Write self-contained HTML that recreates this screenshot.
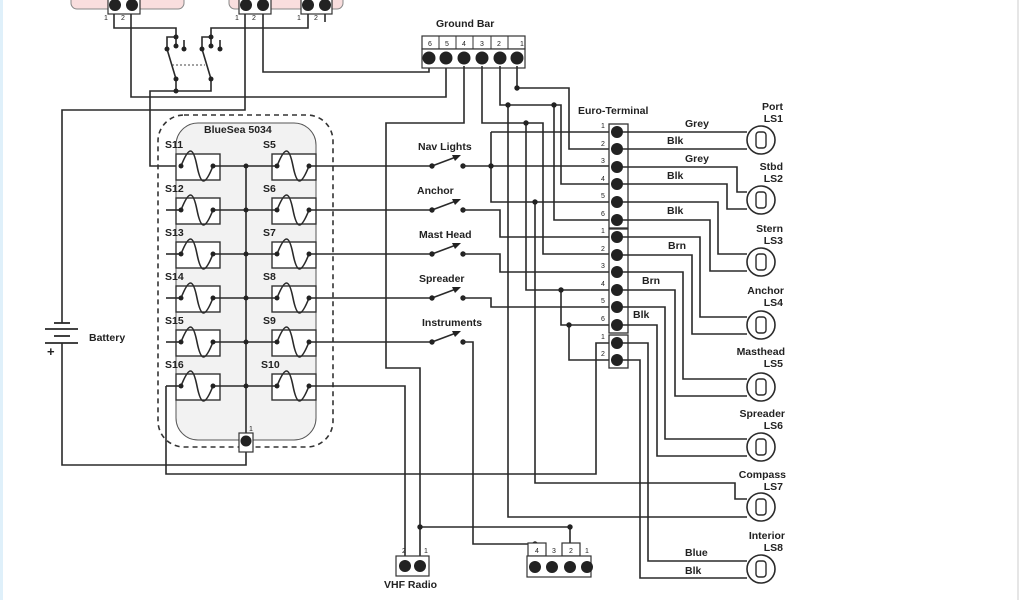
<!DOCTYPE html>
<html><head><meta charset="utf-8"><style>
html,body{margin:0;padding:0;background:#fff;}
svg{display:block;}
text{font-family:"Liberation Sans",sans-serif;font-weight:bold;font-size:10.5px;fill:#222;}
.w{fill:none;stroke:#2a2a2a;stroke-width:1.6;}
.n{font-size:7px;font-weight:normal;}
</style></head><body>
<svg width="1024" height="600" viewBox="0 0 1024 600" xmlns="http://www.w3.org/2000/svg">
<rect x="0" y="0" width="3" height="600" fill="#dff0fa"/>
<line x1="1018" y1="0" x2="1018" y2="600" stroke="#ccc" stroke-width="1"/>

<rect x="71" y="-12" width="113" height="21" rx="6" fill="#f9dede" stroke="#888"/>
<rect x="229" y="-12" width="114" height="21" rx="6" fill="#f9dede" stroke="#888"/>
<g fill="#fff" stroke="#333" stroke-width="1.2">
<rect x="108" y="-2" width="32" height="16"/><rect x="239" y="-2" width="32" height="16"/><rect x="301" y="-2" width="31" height="16"/>
</g>
<g fill="#222">
<circle cx="115" cy="5" r="6"/><circle cx="132" cy="5" r="6"/><circle cx="246" cy="5" r="6"/><circle cx="263" cy="5" r="6"/><circle cx="308" cy="5" r="6"/><circle cx="325" cy="5" r="6"/>
</g>
<text class="n" x="104" y="20">1</text><text class="n" x="121" y="20">2</text><text class="n" x="235" y="20">1</text><text class="n" x="252" y="20">2</text><text class="n" x="297" y="20">1</text><text class="n" x="314" y="20">2</text>

<polyline class="w" points="114,14 114,28 176,28 176,37"/>
<polyline class="w" points="131,14 131,97 446,97 446,66"/>
<polyline class="w" points="245,14 245,110 62,110 62,323"/>
<polyline class="w" points="211,37 211,28 308,28 308,14"/>
<polyline class="w" points="263,14 263,72 429,72 429,66"/>
<polyline class="w" points="325,14 325,22"/>
<polyline class="w" points="167,49 167,37 176,37 176,46"/>
<polyline class="w" points="184,49 184,40"/>
<polyline class="w" points="202,49 202,37 211,37 211,46"/>
<polyline class="w" points="220,49 220,40"/>
<line class="w" x1="167" y1="49" x2="176" y2="79"/>
<line class="w" x1="202" y1="49" x2="211" y2="79"/>
<line x1="172" y1="65" x2="205" y2="65" stroke="#444" stroke-dasharray="2,2"/>
<polyline class="w" points="176,79 176,91"/>
<polyline class="w" points="211,79 211,91 150,91 150,166 176,166"/>
<g fill="#222"><circle cx="167" cy="49" r="2.5"/><circle cx="176" cy="46" r="2.5"/><circle cx="184" cy="49" r="2.5"/><circle cx="202" cy="49" r="2.5"/><circle cx="211" cy="46" r="2.5"/><circle cx="220" cy="49" r="2.5"/><circle cx="176" cy="79" r="2.5"/><circle cx="211" cy="79" r="2.5"/><circle cx="176" cy="91" r="2.5"/><circle cx="211" cy="37" r="2.5"/><circle cx="176" cy="37" r="2.5"/></g>

<text x="436" y="27">Ground Bar</text>
<g fill="#fff" stroke="#333" stroke-width="1.2">
<rect x="422" y="36" width="103" height="13"/>
<rect x="422" y="49" width="103" height="19"/>
</g>
<g stroke="#333" stroke-width="1"><line x1="439" y1="36" x2="439" y2="49"/><line x1="456" y1="36" x2="456" y2="49"/><line x1="473" y1="36" x2="473" y2="49"/><line x1="491" y1="36" x2="491" y2="49"/><line x1="508" y1="36" x2="508" y2="49"/></g>
<text class="n" x="428" y="46">6</text><text class="n" x="445" y="46">5</text><text class="n" x="462" y="46">4</text><text class="n" x="480" y="46">3</text><text class="n" x="497" y="46">2</text><text class="n" x="520" y="46">1</text>
<g fill="#222"><circle cx="429" cy="58" r="6.5"/><circle cx="446" cy="58" r="6.5"/><circle cx="464" cy="58" r="6.5"/><circle cx="482" cy="58" r="6.5"/><circle cx="500" cy="58" r="6.5"/><circle cx="517" cy="58" r="6.5"/></g>

<g stroke="#2a2a2a" stroke-width="1.8">
<line x1="54" y1="323" x2="70" y2="323"/><line x1="45" y1="329" x2="78" y2="329"/>
<line x1="54" y1="336" x2="70" y2="336"/><line x1="45" y1="343" x2="78" y2="343"/>
</g>
<text x="47" y="356" style="font-size:13px">+</text>
<text x="89" y="341">Battery</text>
<polyline class="w" points="62,343 62,465 246,465 246,452"/>

<rect x="158" y="115" width="175" height="332" rx="26" fill="none" stroke="#333" stroke-width="1.6" stroke-dasharray="5,4"/>
<rect x="176" y="123" width="140" height="317" rx="22" fill="#f2f2f2" stroke="#555" stroke-width="1"/>
<text x="204" y="133">BlueSea 5034</text>
<line class="w" x1="246" y1="166" x2="246" y2="434"/>
<g fill="#fff" stroke="#333" stroke-width="1.4">
<rect x="176" y="154" width="44" height="26"/><rect x="272" y="154" width="44" height="26"/>
<rect x="176" y="198" width="44" height="26"/><rect x="272" y="198" width="44" height="26"/>
<rect x="176" y="242" width="44" height="26"/><rect x="272" y="242" width="44" height="26"/>
<rect x="176" y="286" width="44" height="26"/><rect x="272" y="286" width="44" height="26"/>
<rect x="176" y="330" width="44" height="26"/><rect x="272" y="330" width="44" height="26"/>
<rect x="176" y="374" width="44" height="26"/><rect x="272" y="374" width="44" height="26"/>
</g>
<g class="w">
<path d="M181,166 c8,-20 12,-20 16,0 s8,20 16,0"/><path d="M277,166 c8,-20 12,-20 16,0 s8,20 16,0"/>
<path d="M181,210 c8,-20 12,-20 16,0 s8,20 16,0"/><path d="M277,210 c8,-20 12,-20 16,0 s8,20 16,0"/>
<path d="M181,254 c8,-20 12,-20 16,0 s8,20 16,0"/><path d="M277,254 c8,-20 12,-20 16,0 s8,20 16,0"/>
<path d="M181,298 c8,-20 12,-20 16,0 s8,20 16,0"/><path d="M277,298 c8,-20 12,-20 16,0 s8,20 16,0"/>
<path d="M181,342 c8,-20 12,-20 16,0 s8,20 16,0"/><path d="M277,342 c8,-20 12,-20 16,0 s8,20 16,0"/>
<path d="M181,386 c8,-20 12,-20 16,0 s8,20 16,0"/><path d="M277,386 c8,-20 12,-20 16,0 s8,20 16,0"/>
</g>
<g class="w">
<line x1="213" y1="166" x2="277" y2="166"/><line x1="166" y1="210" x2="181" y2="210"/><line x1="213" y1="210" x2="277" y2="210"/>
<line x1="166" y1="254" x2="181" y2="254"/><line x1="213" y1="254" x2="277" y2="254"/>
<line x1="166" y1="298" x2="181" y2="298"/><line x1="213" y1="298" x2="277" y2="298"/>
<line x1="166" y1="342" x2="181" y2="342"/><line x1="213" y1="342" x2="277" y2="342"/>
<line x1="213" y1="386" x2="277" y2="386"/>
</g>
<g fill="#222">
<circle cx="181" cy="166" r="2.5"/><circle cx="213" cy="166" r="2.5"/><circle cx="277" cy="166" r="2.5"/><circle cx="309" cy="166" r="2.5"/><circle cx="246" cy="166" r="2.5"/>
<circle cx="181" cy="210" r="2.5"/><circle cx="213" cy="210" r="2.5"/><circle cx="277" cy="210" r="2.5"/><circle cx="309" cy="210" r="2.5"/><circle cx="246" cy="210" r="2.5"/>
<circle cx="181" cy="254" r="2.5"/><circle cx="213" cy="254" r="2.5"/><circle cx="277" cy="254" r="2.5"/><circle cx="309" cy="254" r="2.5"/><circle cx="246" cy="254" r="2.5"/>
<circle cx="181" cy="298" r="2.5"/><circle cx="213" cy="298" r="2.5"/><circle cx="277" cy="298" r="2.5"/><circle cx="309" cy="298" r="2.5"/><circle cx="246" cy="298" r="2.5"/>
<circle cx="181" cy="342" r="2.5"/><circle cx="213" cy="342" r="2.5"/><circle cx="277" cy="342" r="2.5"/><circle cx="309" cy="342" r="2.5"/><circle cx="246" cy="342" r="2.5"/>
<circle cx="181" cy="386" r="2.5"/><circle cx="213" cy="386" r="2.5"/><circle cx="277" cy="386" r="2.5"/><circle cx="309" cy="386" r="2.5"/><circle cx="246" cy="386" r="2.5"/>
</g>
<text x="165" y="148">S11</text><text x="263" y="148">S5</text>
<text x="165" y="192">S12</text><text x="263" y="192">S6</text>
<text x="165" y="236">S13</text><text x="263" y="236">S7</text>
<text x="165" y="280">S14</text><text x="263" y="280">S8</text>
<text x="165" y="324">S15</text><text x="263" y="324">S9</text>
<text x="165" y="368">S16</text><text x="261" y="368">S10</text>
<rect x="239" y="433" width="14" height="19" fill="#fff" stroke="#333" stroke-width="1.2"/>
<circle cx="246" cy="441" r="5.5" fill="#222"/>
<text class="n" x="249" y="431">1</text>

<g class="w">
<line x1="309" y1="166" x2="432" y2="166"/><line x1="309" y1="210" x2="432" y2="210"/>
<line x1="309" y1="254" x2="432" y2="254"/><line x1="309" y1="298" x2="432" y2="298"/>
<line x1="309" y1="342" x2="432" y2="342"/>
<polyline points="309,386 405,386 405,556"/>
<polyline points="166,386 181,386"/>
<polyline points="166,386 166,474 596,474 596,343 609,343"/>
</g>
<g class="w">
<line x1="432" y1="166" x2="456" y2="157"/><line x1="432" y1="210" x2="456" y2="201"/>
<line x1="432" y1="254" x2="456" y2="245"/><line x1="432" y1="298" x2="456" y2="289"/>
<line x1="432" y1="342" x2="456" y2="333"/>
</g>
<g fill="#222">
<polygon points="461,155 452,155 455,161"/><polygon points="461,199 452,199 455,205"/><polygon points="461,243 452,243 455,249"/><polygon points="461,287 452,287 455,293"/><polygon points="461,331 452,331 455,337"/>
<circle cx="432" cy="166" r="2.7"/><circle cx="463" cy="166" r="2.7"/>
<circle cx="432" cy="210" r="2.7"/><circle cx="463" cy="210" r="2.7"/>
<circle cx="432" cy="254" r="2.7"/><circle cx="463" cy="254" r="2.7"/>
<circle cx="432" cy="298" r="2.7"/><circle cx="463" cy="298" r="2.7"/>
<circle cx="432" cy="342" r="2.7"/><circle cx="463" cy="342" r="2.7"/>
</g>
<text x="418" y="150">Nav Lights</text>
<text x="417" y="194">Anchor</text>
<text x="419" y="238">Mast Head</text>
<text x="419" y="282">Spreader</text>
<text x="422" y="326">Instruments</text>

<g class="w">
<polyline points="464,66 464,123 386,123 386,368 420,368 420,556"/>
<polyline points="420,527 570,527 570,543"/>
<polyline points="517,66 517,88 569,88 569,149 609,149"/>
<polyline points="500,66 500,105 561,105 561,184 609,184"/>
<polyline points="482,66 482,123 543,123 543,254 609,254"/>
<polyline points="526,123 526,290 609,290"/>
<polyline points="561,290 561,325 609,325"/>
<polyline points="569,325 569,360 609,360"/>
<polyline points="554,105 554,220 609,220"/>
<polyline points="508,105 508,517 747,517"/>
<polyline points="535,202 535,483 735,483 735,499 747,499"/>
<polyline points="463,166 609,166"/>
<polyline points="491,132 609,132"/><polyline points="491,132 491,202 609,202"/>
<polyline points="463,210 500,210 500,237 609,237"/>
<polyline points="463,254 500,254 500,272 609,272"/>
<polyline points="463,298 491,298 491,307 609,307"/>
<polyline points="463,342 473,342 473,544 535,544"/>
</g>
<g fill="#222">
<circle cx="517" cy="88" r="2.7"/><circle cx="508" cy="105" r="2.7"/><circle cx="526" cy="123" r="2.7"/><circle cx="491" cy="166" r="2.7"/><circle cx="535" cy="202" r="2.7"/><circle cx="561" cy="290" r="2.7"/><circle cx="569" cy="325" r="2.7"/><circle cx="420" cy="527" r="2.7"/><circle cx="570" cy="527" r="2.7"/><circle cx="535" cy="544" r="2.7"/><circle cx="554" cy="105" r="2.7"/>
</g>

<text x="578" y="114">Euro-Terminal</text>
<g fill="#fff" stroke="#333" stroke-width="1.3">
<rect x="609" y="124" width="19" height="104"/><rect x="609" y="229" width="19" height="104"/><rect x="609" y="335" width="19" height="33"/>
</g>
<g fill="#222">
<circle cx="617" cy="132" r="6"/><circle cx="617" cy="149" r="6"/><circle cx="617" cy="167" r="6"/><circle cx="617" cy="184" r="6"/><circle cx="617" cy="202" r="6"/><circle cx="617" cy="220" r="6"/>
<circle cx="617" cy="237" r="6"/><circle cx="617" cy="255" r="6"/><circle cx="617" cy="272" r="6"/><circle cx="617" cy="290" r="6"/><circle cx="617" cy="307" r="6"/><circle cx="617" cy="325" r="6"/>
<circle cx="617" cy="343" r="6"/><circle cx="617" cy="360" r="6"/>
</g>
<g>
<text class="n" x="601" y="128">1</text><text class="n" x="601" y="146">2</text><text class="n" x="601" y="163">3</text><text class="n" x="601" y="181">4</text><text class="n" x="601" y="198">5</text><text class="n" x="601" y="216">6</text>
<text class="n" x="601" y="233">1</text><text class="n" x="601" y="251">2</text><text class="n" x="601" y="268">3</text><text class="n" x="601" y="286">4</text><text class="n" x="601" y="303">5</text><text class="n" x="601" y="321">6</text>
<text class="n" x="601" y="339">1</text><text class="n" x="601" y="356">2</text>
</g>

<g class="w">
<polyline points="623,132 747,132"/>
<polyline points="623,149 747,149"/>
<polyline points="623,167 737,167 737,192 747,192"/>
<polyline points="623,184 727,184 727,209 747,209"/>
<polyline points="623,202 718,202 718,254 747,254"/>
<polyline points="623,220 710,220 710,271 747,271"/>
<polyline points="623,237 700,237 700,317 747,317"/>
<polyline points="623,255 692,255 692,334 747,334"/>
<polyline points="623,272 683,272 683,379 747,379"/>
<polyline points="623,290 675,290 675,396 747,396"/>
<polyline points="623,307 665,307 665,439 747,439"/>
<polyline points="623,325 657,325 657,456 747,456"/>
<polyline points="623,343 648,343 648,561 747,561"/>
<polyline points="623,360 640,360 640,578 747,578"/>
</g>
<text x="685" y="127">Grey</text><text x="667" y="144">Blk</text>
<text x="685" y="162">Grey</text><text x="667" y="179">Blk</text>
<text x="667" y="214">Blk</text><text x="668" y="249">Brn</text>
<text x="642" y="284">Brn</text><text x="633" y="318">Blk</text>
<text x="685" y="556">Blue</text><text x="685" y="574">Blk</text>

<g fill="#fff" stroke="#2a2a2a" stroke-width="1.6">
<circle cx="761" cy="140" r="14"/><circle cx="761" cy="200" r="14"/><circle cx="761" cy="262" r="14"/><circle cx="761" cy="325" r="14"/>
<circle cx="761" cy="387" r="14"/><circle cx="761" cy="447" r="14"/><circle cx="761" cy="507" r="14"/><circle cx="761" cy="569" r="14"/>
</g>
<g fill="none" stroke="#2a2a2a" stroke-width="1.4">
<rect x="756" y="132" width="10" height="16" rx="3"/><rect x="756" y="192" width="10" height="16" rx="3"/><rect x="756" y="254" width="10" height="16" rx="3"/><rect x="756" y="317" width="10" height="16" rx="3"/>
<rect x="756" y="379" width="10" height="16" rx="3"/><rect x="756" y="439" width="10" height="16" rx="3"/><rect x="756" y="499" width="10" height="16" rx="3"/><rect x="756" y="561" width="10" height="16" rx="3"/>
</g>
<g style="text-anchor:end">
<text x="783" y="110">Port</text><text x="783" y="122">LS1</text>
<text x="783" y="170">Stbd</text><text x="783" y="182">LS2</text>
<text x="783" y="232">Stern</text><text x="783" y="244">LS3</text>
<text x="784" y="294">Anchor</text><text x="783" y="306">LS4</text>
<text x="785" y="355">Masthead</text><text x="783" y="367">LS5</text>
<text x="785" y="417">Spreader</text><text x="783" y="429">LS6</text>
<text x="786" y="478">Compass</text><text x="783" y="490">LS7</text>
<text x="785" y="539">Interior</text><text x="783" y="551">LS8</text>
</g>

<g fill="#fff" stroke="#333" stroke-width="1.2">
<rect x="396" y="556" width="33" height="20"/>
<rect x="528" y="543" width="18" height="13"/><rect x="562" y="543" width="18" height="13"/>
<rect x="527" y="556" width="64" height="21"/>
</g>
<g fill="#222"><circle cx="405" cy="566" r="6"/><circle cx="420" cy="566" r="6"/>
<circle cx="535" cy="567" r="6"/><circle cx="552" cy="567" r="6"/><circle cx="570" cy="567" r="6"/><circle cx="587" cy="567" r="6"/></g>
<text class="n" x="402" y="553">2</text><text class="n" x="424" y="553">1</text>
<text class="n" x="535" y="553">4</text><text class="n" x="552" y="553">3</text><text class="n" x="569" y="553">2</text><text class="n" x="585" y="553">1</text>
<text x="384" y="588">VHF Radio</text>
</svg>
</body></html>
